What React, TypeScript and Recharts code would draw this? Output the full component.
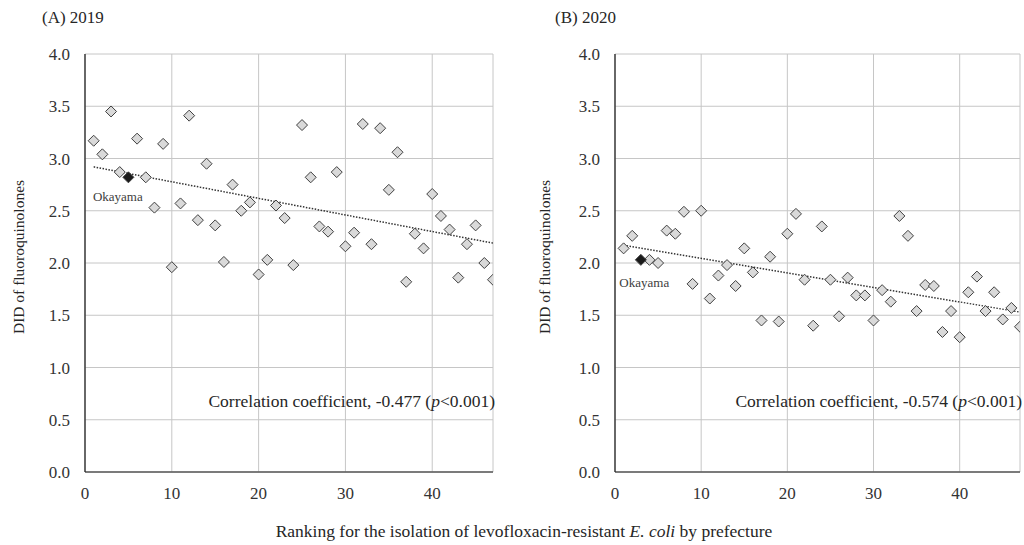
import React from "react";
import {
  ScatterChart,
  Scatter,
  XAxis,
  YAxis,
  CartesianGrid,
  ReferenceLine,
} from "recharts";

// Ranking (1 = highest isolation of levofloxacin-resistant E. coli)
const ranks = [
  1, 2, 3, 4, 5, 6, 7, 8, 9, 10, 11, 12, 13, 14, 15, 16, 17, 18, 19, 20, 21, 22, 23, 24,
  25, 26, 27, 28, 29, 30, 31, 32, 33, 34, 35, 36, 37, 38, 39, 40, 41, 42, 43, 44, 45, 46, 47,
];

// DID of fluoroquinolones, by rank
const did2019 = [
  3.17, 3.04, 3.45, 2.87, 2.82, 3.19, 2.82, 2.53, 3.14, 1.96, 2.57, 3.41, 2.41, 2.95, 2.36, 2.01,
  2.75, 2.5, 2.58, 1.89, 2.03, 2.55, 2.43, 1.98, 3.32, 2.82, 2.35, 2.3, 2.87, 2.16, 2.29, 3.33,
  2.18, 3.29, 2.7, 3.06, 1.82, 2.28, 2.14, 2.66, 2.45, 2.32, 1.86, 2.18, 2.36, 2.0, 1.84,
];
const did2020 = [
  2.14, 2.26, 2.03, 2.03, 2.0, 2.31, 2.28, 2.49, 1.8, 2.5, 1.66, 1.88, 1.98, 1.78, 2.14, 1.91,
  1.45, 2.06, 1.44, 2.28, 2.47, 1.84, 1.4, 2.35, 1.84, 1.49, 1.86, 1.69, 1.69, 1.45, 1.74, 1.63,
  2.45, 2.26, 1.54, 1.79, 1.78, 1.34, 1.54, 1.29, 1.72, 1.87, 1.54, 1.72, 1.46, 1.57, 1.39,
];

const okayamaRank2019 = 5;
const okayamaRank2020 = 3;

// linear trend endpoints
const trendX = [1, 47];
const trend2019 = [2.92, 2.19];
const trend2020 = [2.17, 1.53];

const xTicks = [0, 10, 20, 30, 40];
const yTicks = [0, 0.5, 1, 1.5, 2, 2.5, 3, 3.5, 4];

const FONT = '"Liberation Serif", "Times New Roman", serif';

function Diamond(props: any) {
  const { cx, cy, fill } = props;
  if (cx == null || cy == null) return null;
  const r = 5.5;
  return (
    <polygon
      points={`${cx},${cy - r} ${cx + r},${cy} ${cx},${cy + r} ${cx - r},${cy}`}
      fill={fill}
      stroke="#404040"
      strokeWidth={1}
    />
  );
}

function OkayamaPoint(props: any) {
  const { cx, cy, dx, dy } = props;
  if (cx == null || cy == null) return null;
  return (
    <g>
      <Diamond cx={cx} cy={cy} fill="#1a1a1a" />
      <text x={cx + dx} y={cy + dy} fontFamily={FONT} fontSize={13} fill="#404040">
        Okayama
      </text>
    </g>
  );
}

interface PanelProps {
  values: number[];
  okayama: number;
  trend: number[];
  width: number;
  axisWidth: number;
  rightMargin: number;
  labelX: number;
  okDx: number;
  okDy: number;
}

function Panel({ values, okayama, trend, width, axisWidth, rightMargin, labelX, okDx, okDy }: PanelProps) {
  const points = ranks
    .map((r, i) => ({ x: r, y: values[i] }))
    .filter((p) => p.x !== okayama);
  const ok = [{ x: okayama, y: values[ranks.indexOf(okayama)] }];

  return (
    <ScatterChart
      width={width}
      height={545}
      margin={{ top: 54, right: rightMargin, bottom: 43, left: 0 }}
    >
      <CartesianGrid stroke="#c6c6c6" strokeWidth={1} />
      <XAxis
        type="number"
        dataKey="x"
        domain={[0, 47]}
        ticks={xTicks}
        allowDataOverflow
        height={30}
        tickLine={false}
        tickSize={0}
        tickMargin={15}
        axisLine={{ stroke: "#595959", strokeWidth: 1.3 }}
        tick={{ fill: "#333", fontSize: 17, fontFamily: FONT }}
      />
      <YAxis
        type="number"
        dataKey="y"
        domain={[0, 4]}
        ticks={yTicks}
        width={axisWidth}
        tickFormatter={(v: number) => v.toFixed(1)}
        tickLine={false}
        tickSize={0}
        tickMargin={15}
        axisLine={{ stroke: "#262626", strokeWidth: 1.3 }}
        tick={{ fill: "#333", fontSize: 17, fontFamily: FONT }}
        label={{
          content: () => (
            <text
              x={labelX}
              y={257}
              transform={`rotate(-90, ${labelX}, 257)`}
              textAnchor="middle"
              dominantBaseline="central"
              fontFamily={FONT}
              fontSize={15.5}
              fill="#262626"
            >
              DID of fluoroquinolones
            </text>
          ),
        }}
      />
      <ReferenceLine
        segment={[
          { x: trendX[0], y: trend[0] },
          { x: trendX[1], y: trend[1] },
        ]}
        stroke="#333"
        strokeWidth={1.5}
        strokeDasharray="1.5 1.5"
        ifOverflow="visible"
      />
      <Scatter data={points} fill="#d9d9d9" shape={<Diamond />} isAnimationActive={false} />
      <Scatter
        data={ok}
        fill="#1a1a1a"
        shape={<OkayamaPoint dx={okDx} dy={okDy} />}
        isAnimationActive={false}
      />
    </ScatterChart>
  );
}

const textStyle: React.CSSProperties = {
  position: "absolute",
  fontFamily: FONT,
  fontSize: 17,
  color: "#262626",
  lineHeight: "18px",
  whiteSpace: "nowrap",
};

export default function App() {
  return (
    <div style={{ position: "absolute", left: 0, top: 0, width: 1024, height: 545, background: "#fff" }}>
      <div style={{ position: "absolute", left: 0, top: 0 }}>
        <Panel
          values={did2019}
          okayama={okayamaRank2019}
          trend={trend2019}
          width={500}
          axisWidth={85}
          rightMargin={7}
          labelX={18}
          okDx={-35.5}
          okDy={23.5}
        />
      </div>
      <div style={{ position: "absolute", left: 520, top: 0 }}>
        <Panel
          values={did2020}
          okayama={okayamaRank2020}
          trend={trend2020}
          width={504}
          axisWidth={95}
          rightMargin={4}
          labelX={24}
          okDx={-21.5}
          okDy={27}
        />
      </div>
      <div style={{ ...textStyle, left: 42, top: 9 }}>(A) 2019</div>
      <div style={{ ...textStyle, left: 555, top: 9 }}>(B) 2020</div>
      <div style={{ ...textStyle, fontSize: 17.5, left: 0, width: 495, top: 391.5, textAlign: "right" }}>
        Correlation coefficient, -0.477 (<i>p</i>&lt;0.001)
      </div>
      <div style={{ ...textStyle, fontSize: 17.5, left: 520, width: 502, top: 391.5, textAlign: "right" }}>
        Correlation coefficient, -0.574 (<i>p</i>&lt;0.001)
      </div>
      <div style={{ ...textStyle, left: 0, width: 1048, top: 522, fontSize: 17.5, textAlign: "center" }}>
        Ranking for the isolation of levofloxacin-resistant <i>E. coli</i> by prefecture
      </div>
    </div>
  );
}
